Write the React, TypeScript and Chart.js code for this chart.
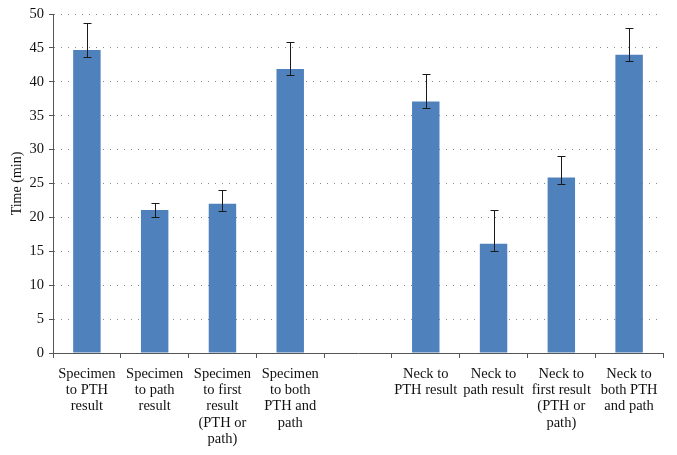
import React, { useEffect, useRef } from "react";
import { Chart, registerables } from "chart.js";

Chart.register(...registerables);

const categories: string[][] = [
  ["Specimen", "to PTH", "result"],
  ["Specimen", "to path", "result"],
  ["Specimen", "to first", "result", "(PTH or", "path)"],
  ["Specimen", "to both", "PTH and", "path"],
  [""],
  ["Neck to", "PTH result"],
  ["Neck to", "path result"],
  ["Neck to", "first result", "(PTH or", "path)"],
  ["Neck to", "both PTH", "and path"],
];

const meanValues: (number | null)[] = [44.7, 21.1, 22.0, 41.9, null, 37.1, 16.1, 25.9, 44.0];
const errorUpper: (number | null)[] = [48.7, 22.1, 24.0, 45.9, null, 41.2, 21.1, 29.0, 48.0];
const errorLower: (number | null)[] = [43.7, 20.1, 21.0, 41.0, null, 36.2, 15.1, 25.0, 43.0];

const yTicks = { min: 0, max: 50, step: 5 };

const FONT = "'Liberation Serif', 'DejaVu Serif', serif";

const errorBarPlugin = {
  id: "errorBars",
  afterDatasetsDraw(chart: any) {
    const ctx = chart.ctx;
    const meta = chart.getDatasetMeta(0);
    const y = chart.scales.y;
    ctx.save();
    ctx.strokeStyle = "#1a1a1a";
    ctx.lineWidth = 1;
    meta.data.forEach((bar: any, i: number) => {
      const hi = errorUpper[i];
      const lo = errorLower[i];
      if (hi == null || lo == null || meanValues[i] == null) return;
      const x = Math.round(bar.x) + 0.5;
      const yh = Math.round(y.getPixelForValue(hi)) + 0.5;
      const yl = Math.round(y.getPixelForValue(lo)) + 0.5;
      const cap = 4;
      ctx.beginPath();
      ctx.moveTo(x, yh);
      ctx.lineTo(x, yl);
      ctx.moveTo(x - cap, yh);
      ctx.lineTo(x + cap, yh);
      ctx.moveTo(x - cap, yl);
      ctx.lineTo(x + cap, yl);
      ctx.stroke();
    });
    ctx.restore();
  },
};

export default function App() {
  const ref = useRef<HTMLCanvasElement | null>(null);

  useEffect(() => {
    document.body.style.margin = "0";
    if (!ref.current) return;
    const chart = new Chart(ref.current, {
      type: "bar",
      data: {
        labels: categories,
        datasets: [
          {
            data: meanValues,
            backgroundColor: "#4F81BD",
            borderWidth: 0,
            barPercentage: 0.405,
            categoryPercentage: 1,
          },
        ],
      },
      options: {
        animation: false,
        responsive: false,
        maintainAspectRatio: false,
        layout: { padding: { top: 14, right: 14, left: 9, bottom: 0 } },
        plugins: {
          legend: { display: false },
          tooltip: { enabled: false },
        },
        scales: {
          x: {
            offset: true,
            grid: {
              offset: true,
              drawOnChartArea: false,
              drawTicks: true,
              tickLength: 5,
              color: "#555",
            },
            border: { display: true, color: "#555", width: 1 },
            ticks: {
              color: "#111",
              maxRotation: 0,
              autoSkip: false,
              padding: 8,
              font: { family: FONT, size: 14.5, lineHeight: 1.12 },
            },
            afterFit(scale: any) {
              scale.height = 102;
            },
          },
          y: {
            min: yTicks.min,
            max: yTicks.max,
            ticks: {
              stepSize: yTicks.step,
              color: "#111",
              padding: 5,
              font: { family: FONT, size: 14.5 },
            },
            grid: {
              drawOnChartArea: true,
              drawTicks: true,
              tickLength: 4,
              color: (c: any) => (c.tick && c.tick.value === 0 ? "rgba(0,0,0,0)" : "#8a8a8a"),
              tickColor: "#555",
              lineWidth: 1,
            },
            border: { display: true, color: "#555", width: 1, dash: [1, 6] },
            title: {
              display: true,
              text: "Time (min)",
              color: "#111",
              font: { family: FONT, size: 14 },
              padding: { top: 0, bottom: 2 },
            },
            afterFit(scale: any) {
              scale.width = 44;
            },
          },
        },
      },
      plugins: [errorBarPlugin],
    });
    return () => chart.destroy();
  }, []);

  return (
    <div style={{ position: "relative", width: 677, height: 455, background: "#fff" }}>
      <canvas ref={ref} width={677} height={455} style={{ width: 677, height: 455 }} />
    </div>
  );
}
